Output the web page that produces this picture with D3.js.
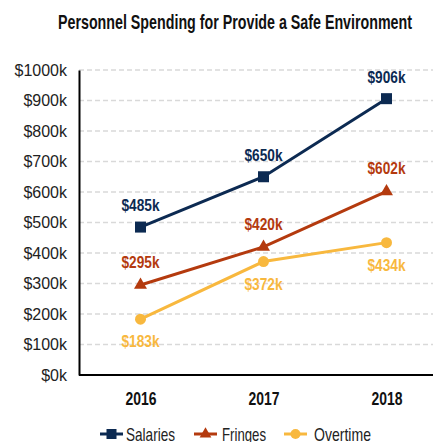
<!DOCTYPE html>
<html><head><meta charset="utf-8">
<script src="https://cdn.jsdelivr.net/npm/d3@7"></script>
<style>
body{margin:0;background:#fff;}
svg{display:block;}
.cond{font-family:"Liberation Sans",Arial,sans-serif;}
</style></head><body>
<script>
const years = ["2016","2017","2018"];
const salaries = [485, 650, 906];
const fringes = [295, 420, 602];
const overtime = [183, 372, 434];
const seriesNames = ["Salaries","Fringes","Overtime"];
const colors = ["#0c2a52","#b43a0e","#f8b83e"];
const yTicks = [0,100,200,300,400,500,600,700,800,900,1000];

(function(){
const W=435,H=442;
const svg=d3.select("body").append("svg").attr("width",W).attr("height",H);
const pL=79, pR=433, pT=70, pB=375;
const x=d3.scalePoint().domain(years).range([pL,448]).padding(0.5);
const y=d3.scaleLinear().domain([0,1000]).range([pB,pT]);

svg.append("text").attr("class","cond").attr("x",235).attr("y",29).attr("text-anchor","middle")
  .attr("font-size",21).attr("font-weight","bold").attr("fill","#111")
  .attr("textLength",354).attr("lengthAdjust","spacingAndGlyphs")
  .text("Personnel Spending for Provide a Safe Environment");

// grid
svg.append("g").selectAll("line").data(yTicks.filter(d=>d>0)).join("line")
  .attr("x1",pL).attr("x2",pR).attr("y1",d=>y(d)).attr("y2",d=>y(d))
  .attr("stroke","#d9d9d9").attr("stroke-width",1.3).attr("stroke-dasharray","5,3");

// y axis
const ya=svg.append("g").attr("transform",`translate(${pL},0)`)
  .call(d3.axisLeft(y).tickValues(yTicks).tickSize(0).tickPadding(12).tickFormat(d=>"$"+d+"k"));
ya.select(".domain").attr("stroke","#000").attr("stroke-width",2);
ya.selectAll("text").attr("font-family","Liberation Sans, Arial, sans-serif").attr("font-size",16).attr("fill","#222");

// x axis
const xa=svg.append("g").attr("transform",`translate(0,${pB})`)
  .call(d3.axisBottom(x).tickSize(0));
xa.select(".domain").remove();
svg.append("line").attr("x1",pL).attr("x2",pR).attr("y1",pB).attr("y2",pB).attr("stroke","#000").attr("stroke-width",2);
xa.selectAll("text").attr("class","cond").attr("y",30).attr("dy",null).attr("font-size",18).attr("font-weight","bold").attr("fill","#111")
  .attr("textLength",31).attr("lengthAdjust","spacingAndGlyphs");

const data=[salaries,fringes,overtime];
const line=d3.line().x((d,i)=>x(years[i])).y(d=>y(d));
data.forEach((s,k)=>{
  svg.append("path").attr("d",line(s)).attr("fill","none").attr("stroke",colors[k]).attr("stroke-width",3);
});
function marker(g,k,cx,cy,sz){
  if(k===0) g.append("rect").attr("x",cx-sz/2).attr("y",cy-sz/2).attr("width",sz).attr("height",sz).attr("fill",colors[0]);
  else if(k===1) g.append("path").attr("transform",`translate(${cx},${cy})`).attr("d",d3.symbol(d3.symbolTriangle,sz*sz*0.6)()).attr("fill",colors[1]);
  else g.append("circle").attr("cx",cx).attr("cy",cy).attr("r",sz/2).attr("fill",colors[2]);
}
const offs=[-16,-17,28];
data.forEach((s,k)=>{
  s.forEach((v,i)=>{
    marker(svg,k,x(years[i]),y(v),11);
    svg.append("text").attr("class","cond").attr("x",x(years[i])).attr("y",y(v)+offs[k])
      .attr("text-anchor","middle").attr("font-size",16.5).attr("font-weight","bold").attr("fill",colors[k])
      .attr("textLength",38).attr("lengthAdjust","spacingAndGlyphs").text("$"+v+"k");
  });
});

// legend
const lg=[{x:100,t:126,w:49},{x:194,t:222,w:44},{x:284,t:314,w:57}];
seriesNames.forEach((n,k)=>{
  const ly=434;
  svg.append("line").attr("x1",lg[k].x).attr("x2",lg[k].x+23).attr("y1",ly).attr("y2",ly).attr("stroke",colors[k]).attr("stroke-width",3);
  marker(svg,k,lg[k].x+11.5,ly,10);
  svg.append("text").attr("class","cond").attr("x",lg[k].t).attr("y",440.5).attr("font-size",19).attr("fill","#222")
    .attr("textLength",lg[k].w).attr("lengthAdjust","spacingAndGlyphs").text(n);
});
})();
</script>
</body></html>
